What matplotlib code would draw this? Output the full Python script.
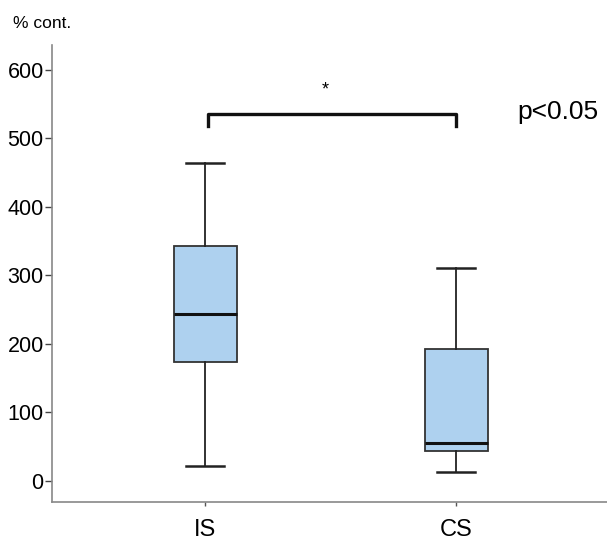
import matplotlib
matplotlib.use("Agg")
import matplotlib.pyplot as plt

groups = ["IS", "CS"]
whislo = [22, 13]
q1 = [174, 44]
med = [244, 55]
q3 = [343, 193]
whishi = [464, 310]
yticks = [0, 100, 200, 300, 400, 500, 600]

FAM = ['Liberation Sans', 'DejaVu Sans']
plt.rcParams['font.family'] = FAM

fig = plt.figure(figsize=(6.07, 5.43), dpi=100)
ax = fig.add_axes([0.0857, 0.0755, 0.9143, 0.8415])

stats = []
for i, g in enumerate(groups):
    stats.append(dict(label=g, whislo=whislo[i], q1=q1[i], med=med[i], q3=q3[i], whishi=whishi[i], fliers=[]))

ax.bxp(stats, positions=[1, 2], widths=0.25, patch_artist=True, showfliers=False,
       boxprops=dict(facecolor="#aed1ef", edgecolor="#333333", linewidth=1.3),
       medianprops=dict(color="#111111", linewidth=2.2),
       whiskerprops=dict(color="#222222", linewidth=1.3),
       capprops=dict(color="#222222", linewidth=1.8),
       capwidths=0.15)

ax.set_xlim(0.39, 2.6)
ax.set_ylim(-30.7, 636)
ax.set_yticks(yticks)
ax.set_yticklabels([str(v) for v in yticks], fontsize=15.5)
ax.set_xticks([1, 2])
ax.set_xticklabels(groups, fontsize=17)
for s in ["top", "right"]:
    ax.spines[s].set_visible(False)
for s in ["left", "bottom"]:
    ax.spines[s].set_color("#888888")
    ax.spines[s].set_linewidth(1.2)
ax.tick_params(axis="y", length=5, color="#444444", width=1, pad=1)
ax.tick_params(axis="x", length=3, color="#555555", width=1, pad=9)

# significance bracket
ax.plot([1.01, 1.01, 2.0, 2.0], [518, 536, 536, 518], color="#111111", linewidth=2.4, clip_on=False)
ax.text(1.48, 570, "*", ha="center", va="center", fontsize=13)
ax.text(0.852, 1 - 112 / 543, "p<0.05", transform=fig.transFigure, fontsize=19, ha="left", va="center")
fig.text(0.022, 1 - 23 / 543, "% cont.", fontsize=12.5, ha="left", va="center")

fig.savefig("out.png", dpi=100)
